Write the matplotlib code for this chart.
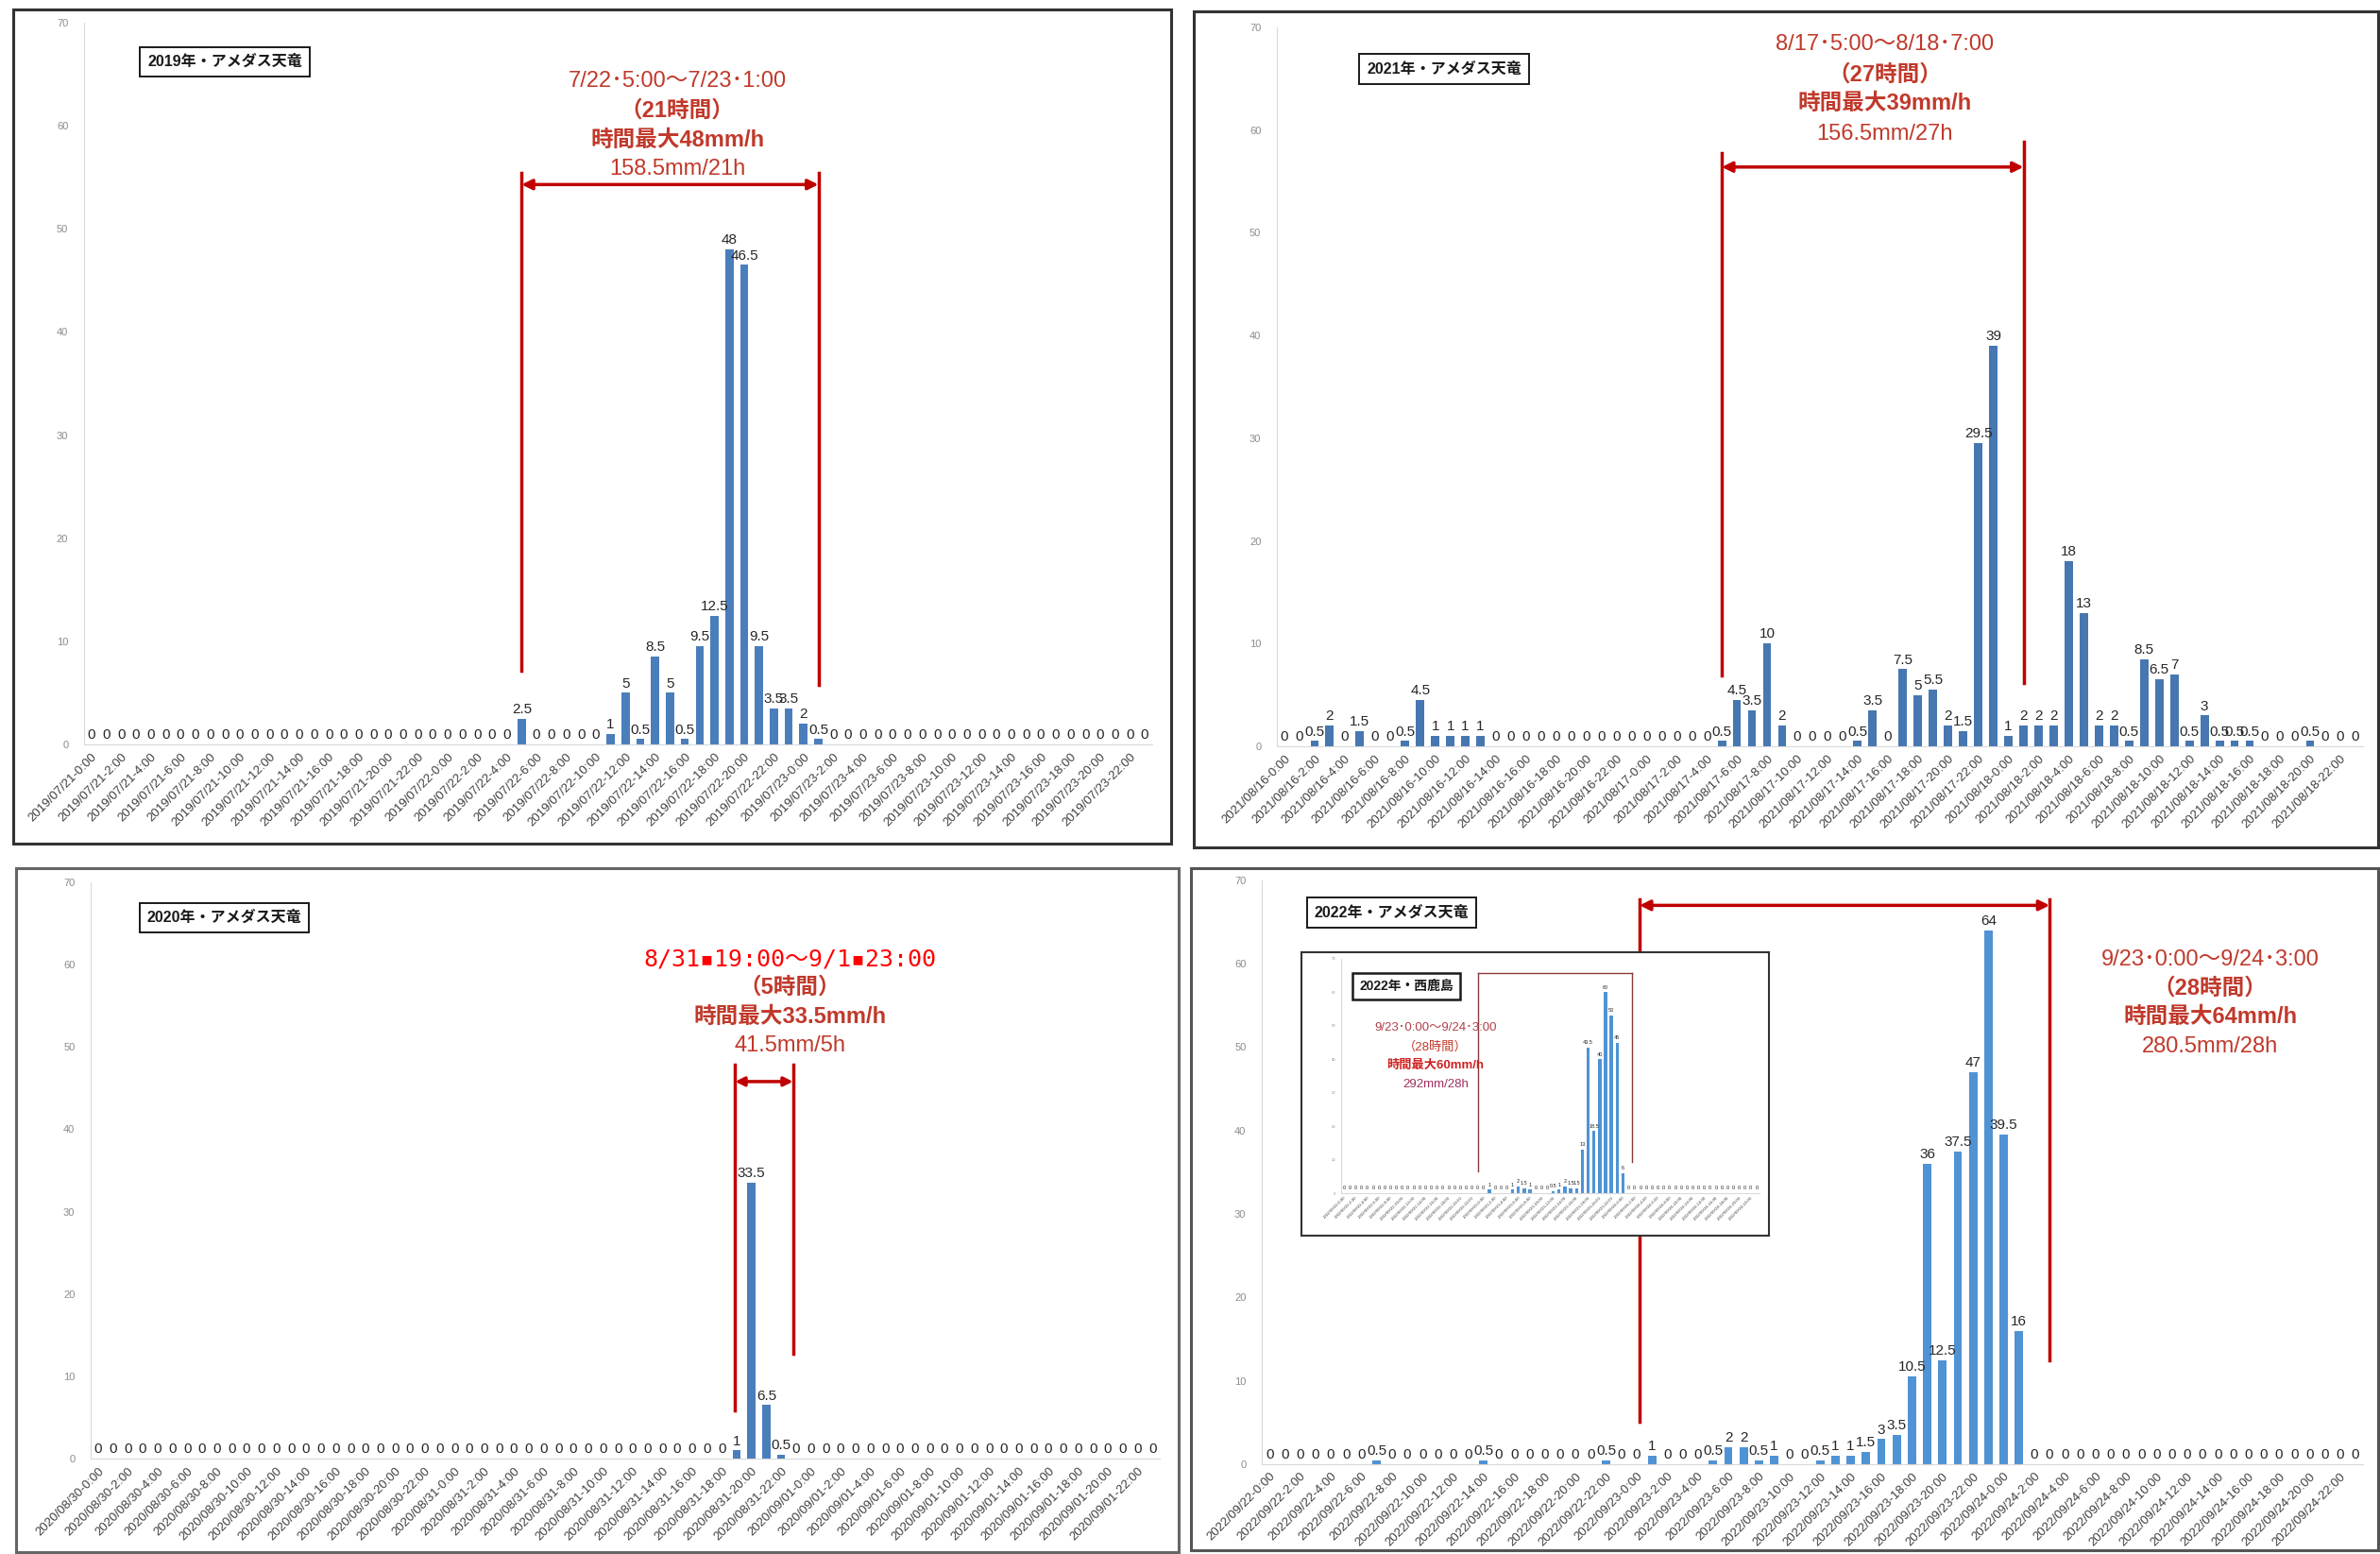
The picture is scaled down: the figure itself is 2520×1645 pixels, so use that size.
# アメダス天竜・時間雨量（2019〜2022）4枚組グラフ

import matplotlib
matplotlib.use("Agg")
import matplotlib.pyplot as plt
from matplotlib import font_manager
from matplotlib.patches import Rectangle
import numpy as np
import pandas as pd

# 1. フォント（細めの欧文 + 日本語）
installed = {f.name for f in font_manager.fontManager.ttflist}
NARROW = "Liberation Sans Narrow" if "Liberation Sans Narrow" in installed else "Liberation Sans"
JP = "Noto Sans CJK JP"
plt.rcParams["font.family"] = [NARROW, JP, "DejaVu Sans"]

# 2. データ（1時間ごとの雨量 mm、各72時間）
rain_2019 = [0, 0, 0, 0, 0, 0, 0, 0, 0, 0, 0, 0, 0, 0, 0, 0, 0, 0, 0, 0, 0, 0, 0, 0,
             0, 0, 0, 0, 0, 2.5, 0, 0, 0, 0, 0, 1, 5, 0.5, 8.5, 5, 0.5, 9.5, 12.5, 48,
             46.5, 9.5, 3.5, 3.5, 2, 0.5, 0, 0, 0, 0, 0, 0, 0, 0, 0, 0, 0, 0, 0, 0,
             0, 0, 0, 0, 0, 0, 0, 0]
rain_2021 = [0, 0, 0.5, 2, 0, 1.5, 0, 0, 0.5, 4.5, 1, 1, 1, 1, 0, 0, 0, 0, 0, 0, 0, 0, 0, 0,
             0, 0, 0, 0, 0, 0.5, 4.5, 3.5, 10, 2, 0, 0, 0, 0, 0.5, 3.5, 0, 7.5, 5, 5.5,
             2, 1.5, 29.5, 39, 1, 2, 2, 2, 18, 13, 2, 2, 0.5, 8.5, 6.5, 7, 0.5, 3, 0.5, 0.5,
             0.5, 0, 0, 0, 0.5, 0, 0, 0]
rain_2020 = [0, 0, 0, 0, 0, 0, 0, 0, 0, 0, 0, 0, 0, 0, 0, 0, 0, 0, 0, 0, 0, 0, 0, 0,
             0, 0, 0, 0, 0, 0, 0, 0, 0, 0, 0, 0, 0, 0, 0, 0, 0, 0, 0, 1, 33.5, 6.5, 0.5, 0,
             0, 0, 0, 0, 0, 0, 0, 0, 0, 0, 0, 0, 0, 0, 0, 0, 0, 0, 0, 0, 0, 0, 0, 0]
rain_2022 = [0, 0, 0, 0, 0, 0, 0, 0.5, 0, 0, 0, 0, 0, 0, 0.5, 0, 0, 0, 0, 0, 0, 0, 0.5, 0,
             0, 1, 0, 0, 0, 0.5, 2, 2, 0.5, 1, 0, 0, 0.5, 1, 1, 1.5, 3, 3.5, 10.5, 36,
             12.5, 37.5, 47, 64, 39.5, 16, 0, 0, 0, 0, 0, 0, 0, 0, 0, 0, 0, 0, 0, 0,
             0, 0, 0, 0, 0, 0, 0, 0]
# 挿入図：2022年・西鹿島
rain_2022_nishikajima = [0, 0, 0, 0, 0, 0, 0, 0, 0, 0, 0, 0, 0, 0, 0, 0, 0, 0, 0, 0, 0, 0, 0, 0,
                         0, 1, 0, 0, 0, 1, 2, 1.5, 1, 0, 0, 0, 0.5, 1, 2, 1.5, 1.5, 13, 43.5, 18.5,
                         40, 60, 53, 45, 6, 0, 0, 0, 0, 0, 0, 0, 0, 0, 0, 0, 0, 0, 0, 0,
                         0, 0, 0, 0, 0, 0, 0, 0]

start_2019 = "2019-07-21"
start_2020 = "2020-08-30"
start_2021 = "2021-08-16"
start_2022 = "2022-09-22"

titles = {"2019": "2019年・アメダス天竜", "2020": "2020年・アメダス天竜",
          "2021": "2021年・アメダス天竜", "2022": "2022年・アメダス天竜"}

text_2019 = ["7/22･5:00～7/23･1:00", "（21時間）", "時間最大48mm/h", "158.5mm/21h"]
text_2020 = ["8/31▪19:00～9/1▪23:00", "（5時間）", "時間最大33.5mm/h", "41.5mm/5h"]
text_2021 = ["8/17･5:00～8/18･7:00", "（27時間）", "時間最大39mm/h", "156.5mm/27h"]
text_2022 = ["9/23･0:00～9/24･3:00", "（28時間）", "時間最大64mm/h", "280.5mm/28h"]
text_inset = ["9/23･0:00～9/24･3:00", "（28時間）", "時間最大60mm/h", "292mm/28h"]

RED_LINE = "#C00000"
RED_TEXT = "#C0392B"


def labels_for(start):
    dias = pd.date_range(start, periods=36, freq="2h")
    return [f"{d.year}/{d.month:02d}/{d.day:02d}-{d.hour}:00" for d in dias]


fig = plt.figure(figsize=(25.2, 16.45), dpi=100)


def panel(rect, values, start, color, vsize=11, xsize=9.5, ysize=8):
    ax = fig.add_axes(rect)
    x = np.arange(len(values))
    bars = ax.bar(x, values, width=0.55, color=color, zorder=2)
    ax.bar_label(bars, labels=[f"{v:g}" for v in values], padding=2,
                 fontsize=vsize, color="#262626")
    ax.set_xlim(-0.5, len(values) - 0.5)
    ax.set_ylim(0, 70)
    ax.set_yticks(range(0, 71, 10))
    ax.set_xticks(x[::2])
    ax.set_xticklabels(labels_for(start), rotation=45, ha="right",
                       rotation_mode="anchor", fontsize=xsize, color="#404040")
    ax.tick_params(length=0)
    ax.tick_params(axis="y", labelsize=ysize, labelcolor="#8c8c8c", pad=12)
    ax.tick_params(axis="x", pad=5)
    for s in ["top", "right"]:
        ax.spines[s].set_visible(False)
    for s in ["left", "bottom"]:
        ax.spines[s].set_color("#d9d9d9")
    return ax


def bracket(ax, x0, x1, top0, top1, arrow_y, bot0, bot1, lw=2.5, ms=16, color=RED_LINE):
    ax.plot([x0, x0], [bot0, top0], color=color, lw=lw, zorder=3)
    ax.plot([x1, x1], [bot1, top1], color=color, lw=lw, zorder=3)
    ax.annotate("", xy=(x1, arrow_y), xytext=(x0, arrow_y),
                arrowprops=dict(arrowstyle="<|-|>", color=color, lw=lw,
                                mutation_scale=ms, shrinkA=0, shrinkB=0), zorder=3)


def event_text(ax, x, ys, lines, size=17, first=None):
    weights = ["normal", "bold", "bold", "normal"]
    for i, (y, s) in enumerate(zip(ys, lines)):
        kw = dict(ha="center", va="center", fontsize=size, color=RED_TEXT,
                  fontweight=weights[i], zorder=4)
        if i == 0 and first is not None:
            kw.update(first)
        ax.text(x, y, s, **kw)


def title_box(ax, x, y, s, size=11.5, lw=1.4):
    # 影付きの凡例風ボックス
    ax.text(x, y, s, transform=ax.transAxes, ha="center", va="center",
            fontsize=size, fontweight="bold", color="#1a1a1a", zorder=5,
            bbox=dict(boxstyle="square,pad=0.5", fc="white", ec="#1a1a1a", lw=lw))


# 3. 枠線
for (x0, y0, w, h, c) in [(0.0056, 0.4571, 0.4865, 0.5368, "#333333"),
                          (0.5016, 0.4547, 0.4976, 0.5380, "#333333"),
                          (0.0067, 0.0012, 0.4885, 0.4401, "#666666"),
                          (0.5004, 0.0024, 0.4988, 0.4389, "#555555")]:
    fig.add_artist(Rectangle((x0, y0), w, h, transform=fig.transFigure,
                             fill=False, ec=c, lw=2.2, zorder=10))

# 4. 2019年
ax1 = panel([0.0353, 0.5210, 0.4488, 0.4644], rain_2019, start_2019, "#4A7EBB")
title_box(ax1, 0.132, 0.946, titles["2019"])
bracket(ax1, 29, 49, 55.4, 55.4, 54.3, 7.1, 5.8)
event_text(ax1, 39.5, [64.3, 61.5, 58.6, 55.8], text_2019)

# 5. 2021年
ax2 = panel([0.5365, 0.5198, 0.4563, 0.4626], rain_2021, start_2021, "#4677B0")
title_box(ax2, 0.154, 0.942, titles["2021"])
bracket(ax2, 29, 49, 57.8, 58.9, 56.4, 6.9, 6.2)
event_text(ax2, 39.8, [68.3, 65.4, 62.6, 59.6], text_2021)

# 6. 2020年
ax3 = panel([0.0381, 0.0614, 0.4492, 0.3708], rain_2020, start_2020, "#4A7EBB")
title_box(ax3, 0.125, 0.939, titles["2020"])
bracket(ax3, 42.9, 46.8, 47.9, 47.9, 45.8, 5.9, 12.7, ms=14)
event_text(ax3, 46.6, [60.6, 57.2, 53.6, 50.1], text_2020,
           first=dict(color="#FF0000", family=["DejaVu Sans Mono", JP], fontweight="normal",
                      fontsize=18))

# 7. 2022年
ax4 = panel([0.5302, 0.0578, 0.4627, 0.3757], rain_2022, start_2022, "#4F93D5")
title_box(ax4, 0.118, 0.945, titles["2022"])
bracket(ax4, 24.2, 51, 67.7, 67.7, 67.0, 5.1, 12.5)
event_text(ax4, 61.5, [60.5, 57.1, 53.6, 50.1], text_2022)

# 8. 挿入図（2022年・西鹿島）
frame = fig.add_axes([0.5468, 0.2049, 0.1964, 0.1824])
frame.set_xticks([])
frame.set_yticks([])
for s in frame.spines.values():
    s.set_color("#333333")
    s.set_linewidth(1.5)
frame.set_zorder(5)

ins = panel([0.5635, 0.2322, 0.1758, 0.1508], rain_2022_nishikajima, start_2022,
            "#4F93D5", vsize=4, xsize=3.2, ysize=3)
ins.set_zorder(6)
ins.patch.set_alpha(0)
ins.tick_params(axis="y", pad=4)
ins.tick_params(axis="x", pad=2)
title_box(ins, 0.156, 0.883, "2022年・西鹿島", size=10, lw=1.8)
ins.plot([23, 49.5], [65.8, 65.8], color="#8B3A3A", lw=1)
ins.plot([23, 23], [6.5, 65.8], color="#8B3A3A", lw=1)
ins.plot([49.5, 49.5], [9.4, 65.8], color="#8B3A3A", lw=1)
for y, s, c, w in zip([49.4, 43.7, 38.1, 32.5], text_inset,
                      ["#B0404A", "#C0392B", "#D02020", "#A03060"],
                      ["normal", "normal", "bold", "normal"]):
    ins.text(15.75, y, s, ha="center", va="center", fontsize=9.5, color=c, fontweight=w)

fig.savefig("out.png", dpi=100, facecolor="white")
